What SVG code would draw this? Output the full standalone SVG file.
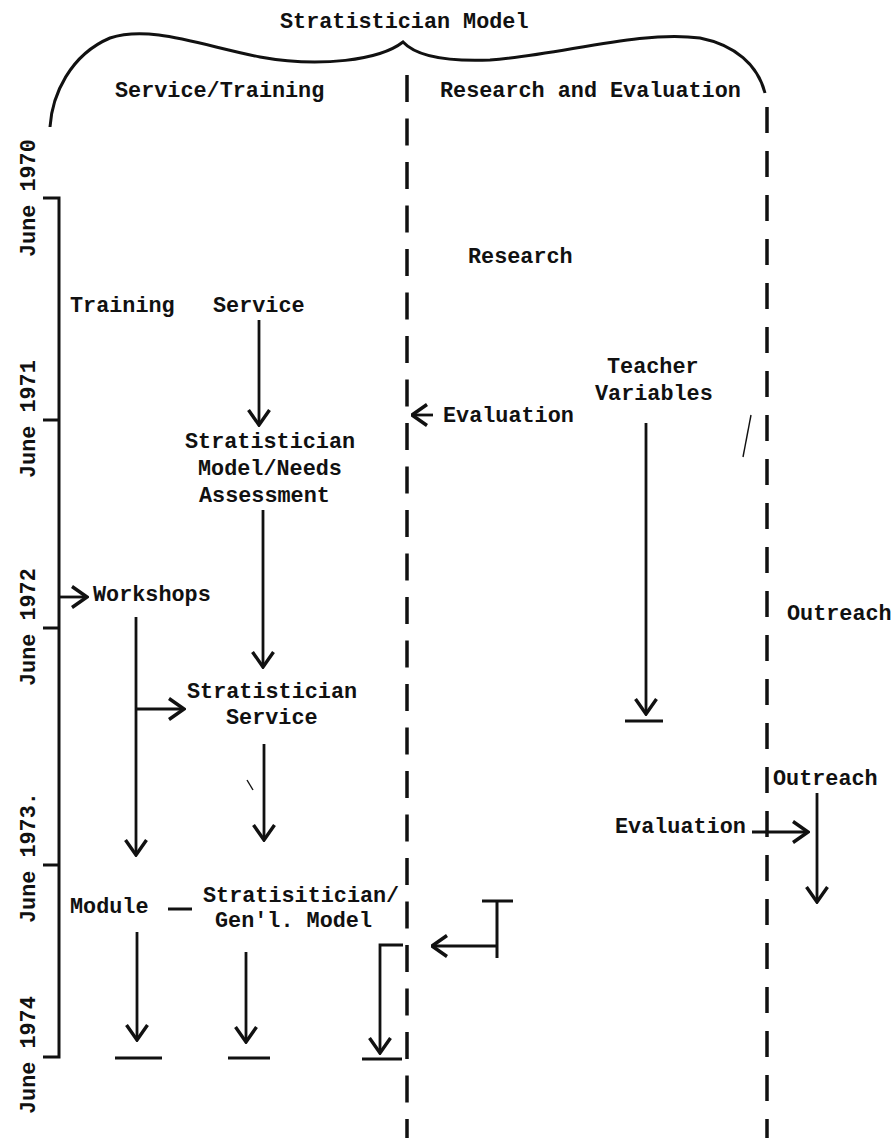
<svg xmlns="http://www.w3.org/2000/svg" width="894" height="1138" viewBox="0 0 894 1138">
  <style>
    text { font-family: "Liberation Mono", "DejaVu Sans Mono", monospace; font-size: 21.8px; font-weight: bold; fill: #111; }
    .ln { stroke: #111; stroke-width: 3; fill: none; stroke-linecap: butt; }
    .lane { stroke: #111; stroke-width: 3.5; fill: none; }
    .mark { stroke: #111; stroke-width: 1.4; fill: none; }
    .arr { stroke: #111; stroke-width: 2.8; fill: none; marker-end: url(#chev); }
  </style>
  <defs>
    <marker id="chev" viewBox="0 0 18 24" refX="16.5" refY="12" markerWidth="18" markerHeight="24" markerUnits="userSpaceOnUse" orient="auto">
      <path d="M1.5,1.5 L16.5,12 L1.5,22.5" fill="none" stroke="#111" stroke-width="3.4" stroke-linejoin="miter"/>
    </marker>
  </defs>
  <rect width="894" height="1138" fill="#fff"/>

  <!-- header: title and brace -->
  <g id="header">
    <text x="280" y="28">Stratistician Model</text>
    <path class="ln" d="M50,127 C52,95 70,55 110,38 C150,25 200,45 260,57 C320,68 380,60 403,42 C415,55 440,62 490,60 C560,55 640,30 700,38 C735,45 758,65 765,93"/>
  </g>

  <g id="col-service-training"><text x="115" y="97">Service/Training</text></g>
  <g id="col-research-evaluation"><text x="440" y="97">Research and Evaluation</text></g>

  <!-- column separators -->
  <g id="lanes">
    <line class="lane" x1="407" y1="75" x2="407" y2="1138" stroke-dasharray="27 16.5"/>
    <line class="lane" x1="767" y1="107" x2="767" y2="1138" stroke-dasharray="26 18"/>
  </g>

  <!-- time axis -->
  <g id="timeline">
    <path class="ln" d="M43,198 H59 V1057 H43"/>
    <line class="ln" x1="43" y1="420" x2="59" y2="420"/>
    <line class="ln" x1="43" y1="628" x2="59" y2="628"/>
    <line class="ln" x1="43" y1="865" x2="59" y2="865"/>
    <text x="35" y="257" transform="rotate(-90 35 257)">June 1970</text>
    <text x="35" y="478" transform="rotate(-90 35 478)">June 1971</text>
    <text x="35" y="686" transform="rotate(-90 35 686)">June 1972</text>
    <text x="35" y="923" transform="rotate(-90 35 923)">June 1973.</text>
    <text x="35" y="1114" transform="rotate(-90 35 1114)">June 1974</text>
  </g>

  <g id="training"><text x="70" y="312">Training</text></g>
  <g id="service"><text x="213" y="312">Service</text></g>
  <g id="research"><text x="468" y="263">Research</text></g>
  <g id="teacher-variables">
    <text x="607" y="373">Teacher</text>
    <text x="595" y="400">Variables</text>
  </g>
  <g id="evaluation-1"><text x="443" y="422">Evaluation</text></g>
  <g id="needs-assessment">
    <text x="185" y="448">Stratistician</text>
    <text x="198" y="475">Model/Needs</text>
    <text x="199" y="502">Assessment</text>
  </g>
  <g id="workshops"><text x="93" y="601">Workshops</text></g>
  <g id="outreach-1"><text x="787" y="620">Outreach</text></g>
  <g id="stratistician-service">
    <text x="187" y="698">Stratistician</text>
    <text x="226" y="724">Service</text>
  </g>
  <g id="outreach-2"><text x="773" y="785">Outreach</text></g>
  <g id="evaluation-2"><text x="615" y="833">Evaluation</text></g>
  <g id="module"><text x="70" y="913">Module</text></g>
  <g id="general-model">
    <text x="203" y="902">Stratisitician/</text>
    <text x="215" y="927">Gen'l. Model</text>
  </g>

  <!-- connectors -->
  <g id="connectors">
    <line class="arr" x1="259" y1="320" x2="259" y2="425"/>
    <line class="arr" x1="433" y1="415" x2="412" y2="415"/>
    <line class="arr" x1="646" y1="423" x2="646" y2="714"/>
    <line class="ln" x1="625" y1="721" x2="663" y2="721"/>
    <line class="arr" x1="263" y1="510" x2="263" y2="667"/>
    <line class="arr" x1="59" y1="597" x2="87" y2="597"/>
    <line class="arr" x1="136" y1="617" x2="136" y2="855"/>
    <line class="arr" x1="136" y1="709" x2="184" y2="709"/>
    <line class="arr" x1="264" y1="744" x2="264" y2="840"/>
    <line class="arr" x1="752" y1="832" x2="808" y2="832"/>
    <line class="arr" x1="817" y1="793" x2="817" y2="902"/>
    <line class="ln" x1="168" y1="909" x2="192" y2="909"/>
    <line class="ln" x1="482" y1="901" x2="513" y2="901"/>
    <line class="ln" x1="497" y1="901" x2="497" y2="958"/>
    <line class="arr" x1="497" y1="946" x2="432" y2="946"/>
    <path class="arr" d="M403,945 H380 V1053"/>
    <line class="arr" x1="137" y1="932" x2="137" y2="1040"/>
    <line class="arr" x1="246" y1="952" x2="246" y2="1042"/>
    <line class="ln" x1="115" y1="1058" x2="162" y2="1058"/>
    <line class="ln" x1="228" y1="1058" x2="270" y2="1058"/>
    <line class="ln" x1="362" y1="1059" x2="402" y2="1059"/>
  </g>

  <!-- stray pen strokes -->
  <g id="marks">
    <line class="mark" x1="743" y1="457" x2="751" y2="415"/>
    <line class="mark" x1="247" y1="780" x2="253" y2="790"/>
  </g>
</svg>
